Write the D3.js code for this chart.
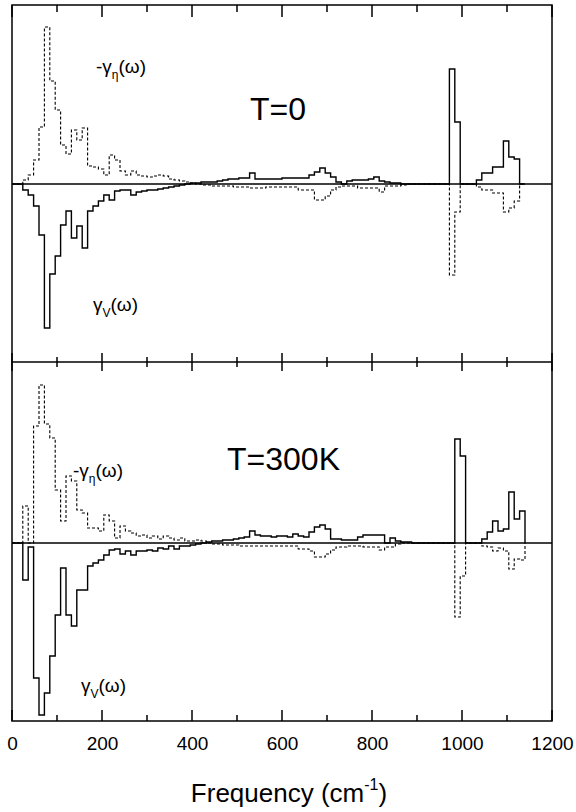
<!DOCTYPE html>
<html>
<head>
<meta charset="utf-8">
<script src="https://cdn.jsdelivr.net/npm/d3@7"></script>
<style>
  body { margin: 0; background: #fff; }
  svg { display: block; font-family: "Liberation Sans", Arial, sans-serif; }
</style>
</head>
<body>
<svg id="chart" width="576" height="812"></svg>
<script>
// Histogram bins, 12 cm^-1 wide, starting at 0 (bin i covers 12*i .. 12*i+12)
const binWidth = 12;
const nBins = 95;

// T=0 : gamma_V (solid) and -gamma_eta (dashed), arbitrary units
const topV = [
  0, 0, -6, -11, -22, -51, -144, -90, -72, -41,
  -27, -54, -42, -64, -27, -22, -17, -11, -16, -7,
  -6, -6, -11, -8, -7, -6, -6, -5, -4, -3,
  -2, -1, 0, 1, 1, 2, 2, 2, 3, 4,
  5, 5, 6, 6, 11, 5, 5, 5, 5, 5,
  6, 6, 6, 6, 6, 9, 12, 16, 11, 7,
  2, 0, 3, 4, 4, 4, 5, 7, 3, 2,
  1, 1, 0, 0, 0, 0, 0, 0, 0, 0,
  0, 115, 62, 0, 0, 0, 4, 11, 11, 17,
  17, 43, 27, 25, 0
];
const topEta = [
  0, 0, 4, 9, 24, 57, 157, 103, 74, 39,
  30, 54, 44, 56, 18, 17, 15, 9, 29, 24,
  13, 9, 13, 9, 8, 7, 8, 9, 8, 5,
  4, 3, 2, 1, 0, -1, -1, -2, -2, -2,
  -2, -3, -3, -3, -4, -4, -4, -3, -3, -3,
  -3, -3, -3, -6, -6, -6, -16, -16, -12, -6,
  -3, -2, -2, -2, -4, -4, -4, -4, -8, -2,
  -2, -2, -1, 0, 0, 0, 0, 0, 0, 0,
  0, -91, -28, 0, 0, 0, -3, -6, -6, -9,
  -9, -28, -24, -17, 0
];

// T=300K
const bottomV = [
  0, 0, -37, -4, -135, -172, -150, -113, -72, -25,
  -72, -83, -47, -47, -23, -20, -17, -12, -7, -6,
  -11, -8, -12, -8, -8, -7, -8, -5, -6, -3,
  -6, -3, -3, -2, -1, 0, 1, 2, 2, 3,
  3, 4, 5, 6, 12, 8, 7, 7, 6, 7,
  7, 6, 9, 7, 6, 11, 16, 18, 14, 4,
  4, 3, 3, 3, 6, 8, 8, 8, 8, 0,
  5, 2, 1, 1, 0, 0, 0, 0, 0, 0,
  0, 0, 104, 87, 0, 0, 0, 4, 11, 22,
  12, 14, 51, 24, 32
];
const bottomEta = [
  0, 0, 37, 0, 117, 158, 119, 105, 53, 22,
  67, 62, 33, 30, 15, 15, 12, 28, 22, 5,
  17, 12, 10, 7, 8, 5, 7, 4, 7, 5,
  3, 5, 2, 2, 3, 2, 0, -1, -1, -2,
  -2, -2, -3, -3, -3, -3, -3, -3, -3, -3,
  -3, -3, -3, -6, -6, -8, -14, -14, -11, -7,
  -4, -4, -3, -3, -3, -4, -4, -4, -7, -4,
  -4, -1, 0, 0, 0, 0, 0, 0, 0, 0,
  0, 0, -74, -33, 0, 0, 0, -3, -4, -8,
  -5, -8, -26, -16, -17
];

const majorTicks = [0, 200, 400, 600, 800, 1000, 1200];
const minorTicks = [100, 300, 500, 700, 900, 1100];

const svg = d3.select("#chart");

const left = 12, right = 552;
const x = d3.scaleLinear().domain([0, 1200]).range([left, right]);

const panels = [
  { top: 5, bottom: 362, domain: [-178, 179], v: topV, eta: topEta },
  { top: 362, bottom: 721, domain: [-178, 181], v: bottomV, eta: bottomEta }
];

function stepPoints(vals) {
  const pts = vals.map((v, i) => [i * binWidth, v]);
  pts.push([nBins * binWidth, 0]);
  return pts;
}

panels.forEach(p => {
  p.y = d3.scaleLinear().domain(p.domain).range([p.bottom, p.top]);
  const line = d3.line()
    .x(d => x(d[0]))
    .y(d => p.y(d[1]))
    .curve(d3.curveStepAfter);

  // zero line
  svg.append("line")
    .attr("x1", left).attr("x2", right)
    .attr("y1", p.y(0)).attr("y2", p.y(0))
    .attr("stroke", "#000").attr("stroke-width", 1.6);

  svg.append("path")
    .datum(stepPoints(p.eta))
    .attr("d", line)
    .attr("fill", "none")
    .attr("stroke", "#000")
    .attr("stroke-width", 1.1)
    .attr("stroke-dasharray", "3,2");

  svg.append("path")
    .datum(stepPoints(p.v))
    .attr("d", line)
    .attr("fill", "none")
    .attr("stroke", "#000")
    .attr("stroke-width", 1.4);
});

// frame
svg.append("rect")
  .attr("x", left).attr("y", 5)
  .attr("width", right - left).attr("height", 721 - 5)
  .attr("fill", "none").attr("stroke", "#000").attr("stroke-width", 1.5);
svg.append("line")
  .attr("x1", left).attr("x2", right)
  .attr("y1", 362).attr("y2", 362)
  .attr("stroke", "#000").attr("stroke-width", 1.5);

// tick marks: [values, y from, y to]
const tickSpecs = [
  [majorTicks, 5, 17], [minorTicks, 5, 12],        // top border, pointing down
  [majorTicks, 353, 371], [minorTicks, 357, 367],  // middle border, crossing
  [majorTicks, 710, 721], [minorTicks, 715, 721]   // bottom border, pointing up
];
tickSpecs.forEach(([vals, y1, y2]) => {
  svg.append("g").selectAll("line")
    .data(vals)
    .join("line")
    .attr("x1", d => x(d)).attr("x2", d => x(d))
    .attr("y1", y1).attr("y2", y2)
    .attr("stroke", "#000")
    .attr("stroke-width", 1.5);
});

// tick labels via the axis
const bx = svg.append("g")
  .attr("transform", "translate(0,721)")
  .call(d3.axisBottom(x).tickValues(majorTicks).tickSize(0).tickFormat(d3.format("d")));
bx.select(".domain").remove();
bx.selectAll(".tick text")
  .attr("font-family", "Liberation Sans, Arial, sans-serif")
  .attr("font-size", 19)
  .attr("fill", "#000")
  .attr("dy", null)
  .attr("y", 29);

// axis title
const title = svg.append("text")
  .attr("x", 289).attr("y", 802)
  .attr("text-anchor", "middle")
  .attr("font-size", 26)
  .text("Frequency (cm");
title.append("tspan").attr("font-size", 16).attr("dy", -12).text("-1");
title.append("tspan").attr("dy", 12).text(")");

// temperature labels
svg.append("text").attr("x", 250).attr("y", 120)
  .attr("font-size", 32).text("T=0");
svg.append("text").attr("x", 227).attr("y", 470)
  .attr("font-size", 32).text("T=300K");

// series labels
function gammaLabel(xp, yp, prefix, sub) {
  const t = svg.append("text").attr("x", xp).attr("y", yp)
    .attr("font-size", 19).attr("fill", "#000");
  t.append("tspan").text(prefix + "γ");
  t.append("tspan").attr("font-size", 12).attr("dy", 6).text(sub);
  t.append("tspan").attr("dy", -6).text("(ω)");
}
gammaLabel(96, 73, "-", "η");
gammaLabel(93, 311, "", "V");
gammaLabel(73, 477, "-", "η");
gammaLabel(81, 692, "", "V");
</script>
</body>
</html>
